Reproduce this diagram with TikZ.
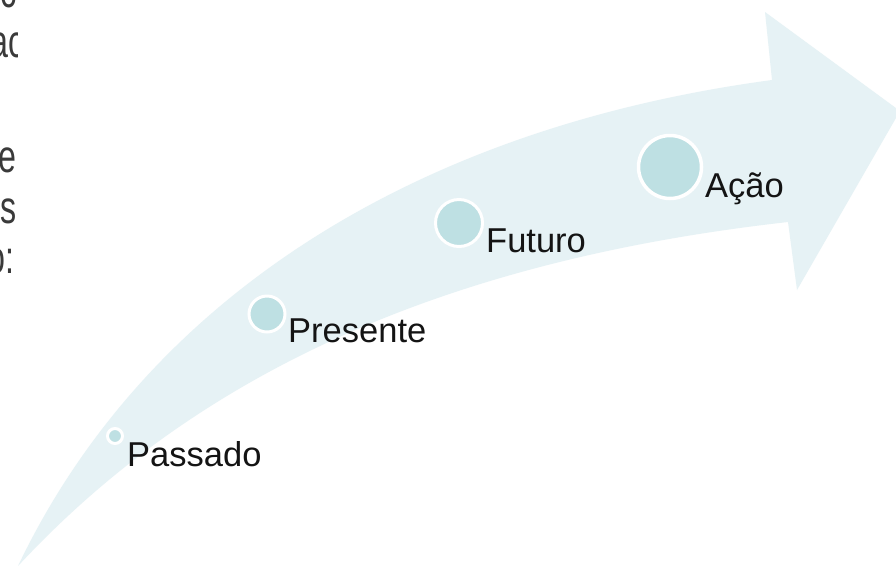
\documentclass[tikz,border=0pt]{standalone}
\usepackage{fontspec}
\setmainfont{Liberation Sans}
\usetikzlibrary{positioning}
\definecolor{bandblue}{HTML}{E6F2F5}
\definecolor{dotblue}{HTML}{BEE0E3}
\definecolor{slidegray}{HTML}{3A3A3A}
\newcommand{\narrow}[1]{\scalebox{0.7}[1]{#1}}
\tikzset{
  dot/.style={circle,fill=dotblue,draw=white,line width=3pt,inner sep=0pt},
  lbl/.style={anchor=base west,inner sep=0pt,font=\fontsize{34.5}{40}\selectfont,text=black!92},
  frag/.style={anchor=base east,inner sep=0pt,font=\fontsize{46}{52}\selectfont,text=slidegray}
}
\begin{document}
\begin{tikzpicture}[x=1pt,y=-1pt]
\clip (0,0) rectangle (896,566);
\fill[white] (0,0) rectangle (896,566);
% the curved arrow
\fill[bandblue] (18,566) .. controls (140,310) and (400,130) .. (772,80)
  -- (765,12) -- (900,111) -- (797,290) -- (788,222)
  .. controls (450,260) and (200,370) .. (18,566) -- cycle;
% steps
\node[dot,minimum size=15pt](passado) at (115,436){};
\node[dot,minimum size=36pt](presente) at (267,314){};
\node[dot,minimum size=47pt](futuro) at (459,223){};
\node[dot,minimum size=63pt,line width=3.5pt](acao) at (670,167){};
\node[lbl](passado_t) at (127,466){Passado};
\node[lbl](presente_t) at (288,342){Presente};
\node[lbl](futuro_t) at (486,252){Futuro};
\node[lbl](acao_t) at (705,197){Ação};
% text of the slide, cut off at the left
\begin{scope}
\clip (0,0) rectangle (17,566);
\node[frag](f1) at (17,7){\narrow{c}};
\node[frag](f2) at (25,57){\narrow{ac}};
\node[frag](f3) at (17,172){\narrow{e}};
\node[frag](f4) at (16.5,223){\narrow{is}};
\node[frag](f5) at (15,273){\narrow{o:}};
\end{scope}
\end{tikzpicture}
\end{document}
